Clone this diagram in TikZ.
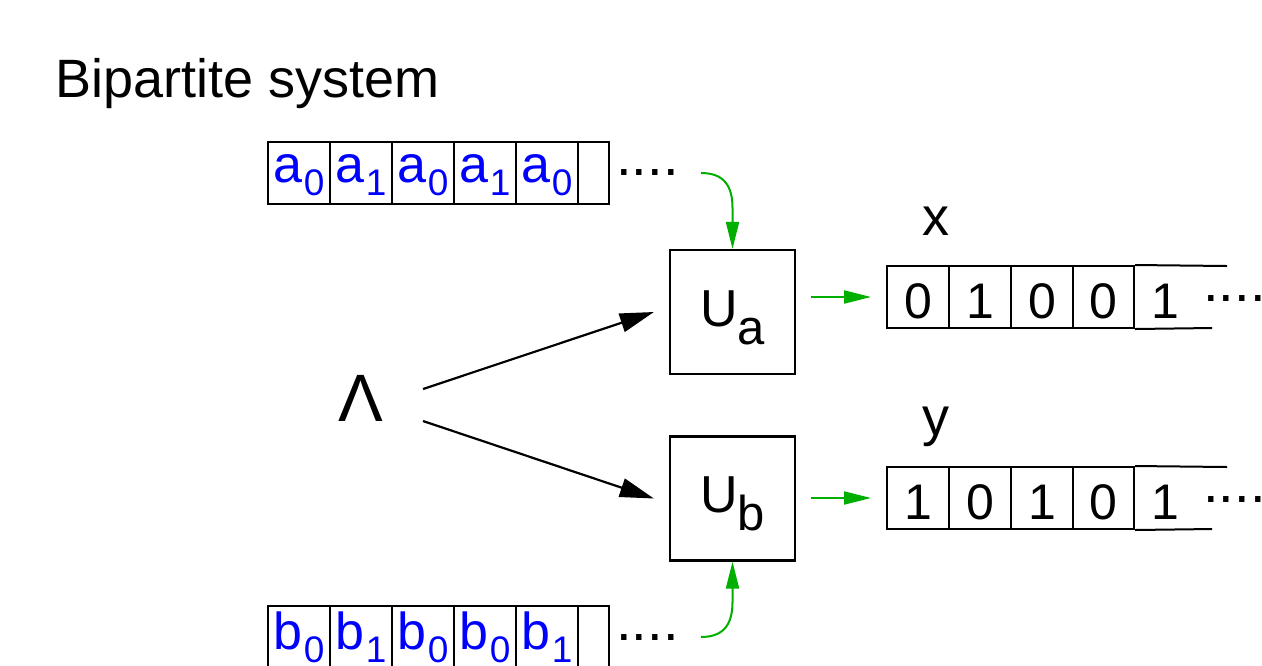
\documentclass[tikz,border=0pt]{standalone}
\usepackage{fontspec}
\setmainfont{Liberation Sans}
\usetikzlibrary{arrows.meta}
\definecolor{tgreen}{RGB}{0,175,0}
\definecolor{tblue}{RGB}{0,0,255}
\newcommand\fsz[1]{\fontsize{#1}{#1}\selectfont}
\newcommand\lsub[1]{\kern0.8pt\raisebox{-6.5pt}{\fsz{18.5pt}#1}}
\newcommand\usub[1]{\raisebox{-9pt}{\fsz{24.5pt}#1}}
\begin{document}
\begin{tikzpicture}[x=0.5pt,y=-0.5pt,
  cell/.style={draw, line width=1pt, minimum width=31pt, minimum height=31pt, inner sep=0pt,
    font=\fsz{26pt}, text=tblue},
  topcell/.style={cell, text height=15pt, text depth=6pt},
  botcell/.style={cell, text height=17pt, text depth=5pt},
  bitcell/.style={cell, text=black, font=\fsz{25pt}, text height=26pt, text depth=5pt},
  nobox/.style={draw=none},
  ubox/.style={draw, line width=1.1pt, minimum width=62.5pt, minimum height=62pt, inner sep=0pt,
    font=\fsz{26pt}, text height=30pt, text depth=16pt},
  dots/.style={inner sep=0pt, anchor=base west, font=\fsz{28pt}},
  lbl/.style={inner sep=0pt, anchor=base, font=\fsz{27pt}},
  barrow/.style={line width=1.1pt, -{Triangle[length=17pt,width=9.5pt]}},
  garrow/.style={draw=tgreen, line width=1pt, -{Triangle[length=13.5pt,width=6.5pt]}, tgreen},
  tline/.style={line width=1pt}
]
\useasboundingbox (0,0) rectangle (1262,665);
\begin{scope}
\clip (0,0) rectangle (1262,665);
% title
\node[inner sep=0pt, anchor=base west, font=\fsz{27pt}] (title) at (55,97) {Bipartite system};
% top tape
\node[topcell] (a1) at (299,173) {a\lsub{0}};
\node[topcell] (a2) at (361,173) {a\lsub{1}};
\node[topcell] (a3) at (423,173) {a\lsub{0}};
\node[topcell] (a4) at (485,173) {a\lsub{1}};
\node[topcell] (a5) at (547,173) {a\lsub{0}};
\node[topcell, minimum width=15.5pt] (a6) at (593.5,173) {};
\node[dots] (adots) at (616,175) {....};
% bottom tape
\node[botcell] (b1) at (299,637) {b\lsub{0}};
\node[botcell] (b2) at (361,637) {b\lsub{1}};
\node[botcell] (b3) at (423,637) {b\lsub{0}};
\node[botcell] (b4) at (485,637) {b\lsub{0}};
\node[botcell] (b5) at (547,637) {b\lsub{1}};
\node[botcell, minimum width=15.5pt] (b6) at (593.5,637) {};
\node[dots] (bdots) at (616,640) {....};
% Lambda
\node[inner sep=0pt, anchor=base, font=\fsz{33.5pt}] (lam) at (361,421) {Λ};
\coordinate (l1) at (423,389);
\coordinate (l2) at (423,421);
% boxes
\node[ubox] (Ua) at (732.5,312) {U\usub{a}};
\node[ubox] (Ub) at (732.5,498.5) {U\usub{b}};
% output tapes
\node[lbl] (xl) at (935.5,235) {x};
\node[bitcell] (x1) at (918,297) {0};
\node[bitcell] (x2) at (980,297) {1};
\node[bitcell] (x3) at (1042,297) {0};
\node[bitcell, minimum width=30.5pt] (x4) at (1103.5,297) {0};
\node[bitcell, nobox] (x5) at (1165,297) {1};
\coordinate (xt) at (1227,266);
\coordinate (xb) at (1212,328);
\draw[tline] (x4.north east) -- (xt);
\draw[tline] (x4.south east) -- (xb);
\node[dots] (xdots) at (1203,301) {....};
\node[lbl] (yl) at (935.5,435) {y};
\node[bitcell] (y1) at (918,498) {1};
\node[bitcell] (y2) at (980,498) {0};
\node[bitcell] (y3) at (1042,498) {1};
\node[bitcell, minimum width=30.5pt] (y4) at (1103.5,498) {0};
\node[bitcell, nobox] (y5) at (1165,498) {1};
\coordinate (yt) at (1227,467);
\coordinate (yb) at (1212,529);
\draw[tline] (y4.north east) -- (yt);
\draw[tline] (y4.south east) -- (yb);
\node[dots] (ydots) at (1203,502) {....};
% black arrows
\draw[barrow] (l1) -- ([xshift=-7.5pt]Ua.west);
\draw[barrow] (l2) -- ([xshift=-7.5pt]Ub.west);
% green arrows
\draw[garrow] ([xshift=7.5pt]Ua.east |- x1.west) -- ([xshift=-7.5pt]x1.west);
\draw[garrow] ([xshift=7.5pt]Ub.east |- y1.west) -- ([xshift=-7.5pt]y1.west);
\coordinate (ga) at (701,173);
\coordinate (gb) at (701,637);
\draw[garrow] (ga) .. controls (724,173) and (732.5,186) .. (732.5,208) -- (Ua.north);
\draw[garrow] (gb) .. controls (724,637) and (732.5,624) .. (732.5,602) -- (Ub.south);
\end{scope}
\end{tikzpicture}
\end{document}
